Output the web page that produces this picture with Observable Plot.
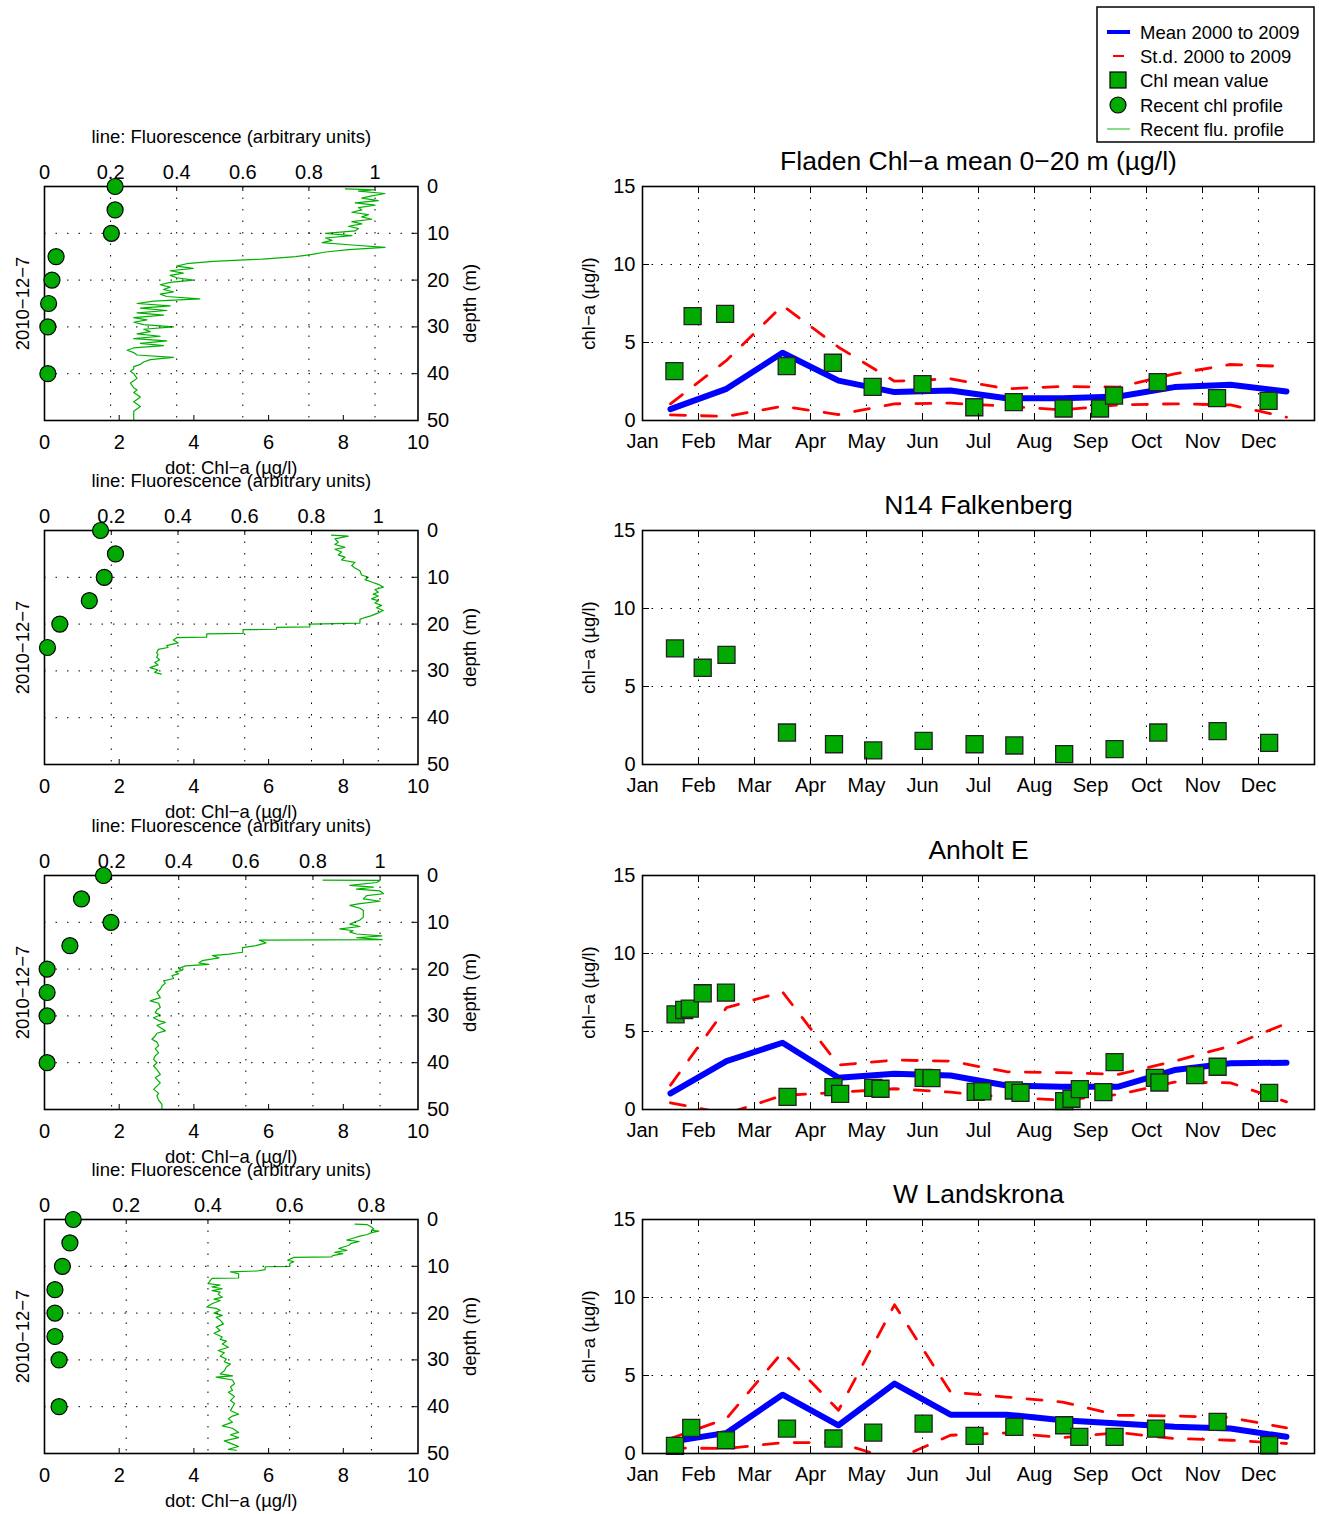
<!DOCTYPE html>
<html><head><meta charset="utf-8">
<script src="https://cdn.jsdelivr.net/npm/d3@7"></script>
<script src="https://cdn.jsdelivr.net/npm/@observablehq/plot@0.6"></script>
<style>
body{margin:0;background:#fff;}
#fig{position:relative;width:1319px;height:1514px;font-family:"Liberation Sans",Arial,Helvetica,sans-serif;color:#000;}
#fig svg{position:absolute;}
</style></head><body><div id="fig">
<svg id="legend" width="219" height="137" style="left:1096px;top:6px" font-family="Liberation Sans, Arial, sans-serif">
<rect x="1" y="1" width="217" height="135" fill="#fff" stroke="#000" stroke-width="1.5"/>
<line x1="11" x2="34" y1="26" y2="26" stroke="#0000ff" stroke-width="4"/>
<line x1="17" x2="28" y1="50" y2="50" stroke="#ff0000" stroke-width="2"/>
<rect x="14" y="66" width="16" height="16" fill="#00aa00" stroke="#000" stroke-width="1.2"/>
<circle cx="22" cy="99" r="8" fill="#00aa00" stroke="#000" stroke-width="1.2"/>
<line x1="11" x2="34" y1="123" y2="123" stroke="#33cc33" stroke-width="1.2"/>
<text x="44" y="32.5" font-size="18.5">Mean 2000 to 2009</text>
<text x="44" y="56.5" font-size="18.5">St.d. 2000 to 2009</text>
<text x="44" y="80.5" font-size="18.5">Chl mean value</text>
<text x="44" y="105.5" font-size="18.5">Recent chl profile</text>
<text x="44" y="129.5" font-size="18.5">Recent flu. profile</text>
</svg>
</div>
<script>
// ---------- DATA ----------
const months = ["Jan","Feb","Mar","Apr","May","Jun","Jul","Aug","Sep","Oct","Nov","Dec"];
const titles = ["Fladen Chl\u2212a mean 0\u221220 m (\u00b5g/l)", "N14 Falkenberg", "Anholt E", "W Landskrona"];
const profileDate = "2010\u221212\u22127";

// Recent chl profile (dots): depth (m) and Chl-a (µg/l)
const dotDepth1 = [0,5,10,15,20,25,30,40];
const dotChl1   = [1.89,1.89,1.79,0.31,0.20,0.11,0.09,0.09];
const dotDepth2 = [0,5,10,15,20,25];
const dotChl2   = [1.50,1.90,1.60,1.20,0.41,0.08];
const dotDepth3 = [0,5,10,15,20,25,30,40];
const dotChl3   = [1.58,0.99,1.78,0.68,0.07,0.07,0.07,0.07];
const dotDepth4 = [0,5,10,15,20,25,30,40];
const dotChl4   = [0.77,0.68,0.48,0.28,0.28,0.28,0.39,0.39];

// Fluorescence top-axis extent and ticks
const fluAxisMax = [1.13, 1.119, 1.113, 0.914];
const fluTicks = [[0,0.2,0.4,0.6,0.8,1],[0,0.2,0.4,0.6,0.8,1],[0,0.2,0.4,0.6,0.8,1],[0,0.2,0.4,0.6,0.8]];

// Recent fluorescence profile (line)
const fluDepth1 = [0.5,0.7,1.0,1.5,2.0,2.5,3.0,3.5,4.0,4.5,5.0,5.5,6.0,6.5,7.0,7.5,8.0,8.5,9.0,9.5,10.0,10.5,11.0,11.5,12.0,12.5,13.0,13.5,14.0,14.5,15.0,15.5,16.0,16.5,17.0,17.5,18.0,18.5,19.0,19.5,20.0,20.5,21.0,21.5,22.0,22.5,23.0,23.5,24.0,24.5,25.0,25.5,26.0,26.5,27.0,27.5,28.0,28.5,29.0,29.5,30.0,30.5,31.0,31.5,32.0,32.5,33.0,33.5,34.0,34.5,35.0,35.5,36.0,36.5,37.0,37.5,38.0,38.5,39.0,39.5,40.0,41.0,42.0,43.0,43.5,44.0,45.0,45.5,46.0,47.0,48.0,49.0,50.0];
const fluVal1   = [0.91,1.00,0.95,1.03,0.99,0.96,1.01,0.94,1.00,0.95,0.96,0.93,0.98,0.96,0.99,0.93,0.96,0.92,0.95,0.94,0.85,0.93,0.85,0.87,0.84,0.93,1.03,0.92,0.85,0.81,0.76,0.66,0.51,0.43,0.40,0.45,0.38,0.42,0.38,0.40,0.45,0.38,0.35,0.38,0.36,0.39,0.35,0.37,0.47,0.33,0.28,0.38,0.29,0.37,0.28,0.36,0.27,0.31,0.27,0.30,0.39,0.30,0.32,0.28,0.35,0.27,0.37,0.29,0.36,0.27,0.25,0.27,0.28,0.39,0.32,0.30,0.29,0.27,0.27,0.26,0.27,0.28,0.26,0.27,0.28,0.27,0.29,0.28,0.27,0.29,0.27,0.27,0.27];
const fluDepth2 = [1.0,1.2,1.8,2.5,3.0,3.6,4.0,4.6,5.2,5.7,6.3,6.8,7.5,8.0,8.6,9.5,10.0,10.5,11.0,11.5,12.1,12.6,13.2,13.6,14.0,14.6,15.0,15.5,16.0,16.5,17.1,17.6,18.2,18.6,19.0,19.8,20.0,20.6,20.7,21.1,21.2,22.0,22.1,22.8,22.9,23.4,24.0,24.6,25.0,25.4,26.1,26.5,27.1,27.6,28.2,28.7,29.3,29.8,30.3,30.7];
const fluVal2   = [0.86,0.91,0.87,0.88,0.87,0.90,0.87,0.89,0.88,0.90,0.89,0.93,0.92,0.93,0.945,0.95,0.97,0.96,0.98,1.0,1.015,0.99,1.0,0.985,1.0,0.98,1.0,0.99,1.01,0.995,1.015,1.0,0.98,0.96,0.945,0.945,0.795,0.795,0.695,0.695,0.595,0.595,0.486,0.486,0.396,0.386,0.40,0.366,0.37,0.341,0.336,0.34,0.336,0.345,0.33,0.34,0.316,0.34,0.33,0.35];
const fluDepth3 = [1.0,1.05,1.5,2.1,2.5,2.9,3.3,3.9,4.3,5.0,5.5,6.0,6.4,7.0,7.5,8.2,8.9,9.5,10.4,10.9,11.4,11.8,12.1,12.5,12.9,13.3,13.7,13.8,14.4,15.0,15.4,16.4,16.8,17.1,17.6,18.2,18.7,19.0,19.3,19.9,20.3,20.6,21.0,21.4,22.0,22.5,23.0,23.6,24.3,25.0,25.5,26.1,26.8,27.3,28.2,28.7,29.3,29.8,30.4,31.0,31.4,32.0,32.5,33.2,33.7,34.3,35.0,35.6,36.4,37.0,37.9,38.5,39.3,40.0,40.7,41.5,42.5,43.2,44.3,45.0,45.7,46.5,47.1,48.0,48.9,50.0];
const fluVal3   = [0.83,1.0,0.99,0.91,0.98,0.93,1.0,1.01,0.96,0.95,1.0,0.94,0.91,0.94,0.95,0.95,0.95,0.94,0.91,0.94,0.88,0.92,0.91,0.93,1.005,0.93,1.006,0.64,0.66,0.63,0.59,0.59,0.55,0.50,0.52,0.47,0.46,0.49,0.42,0.40,0.41,0.39,0.40,0.38,0.385,0.355,0.36,0.35,0.345,0.335,0.34,0.345,0.315,0.34,0.345,0.335,0.33,0.345,0.325,0.34,0.36,0.335,0.345,0.36,0.335,0.33,0.32,0.335,0.34,0.33,0.34,0.33,0.325,0.335,0.325,0.335,0.345,0.33,0.345,0.335,0.325,0.34,0.335,0.34,0.35,0.35];
const fluDepth4 = [1.0,1.1,1.6,2.0,2.3,2.5,2.8,3.2,3.6,4.0,4.4,4.7,5.1,5.5,6.2,6.6,7.0,7.3,7.7,8.0,8.1,8.7,9.0,9.4,10.0,10.1,10.7,11.0,11.2,11.6,12.0,12.5,12.6,13.1,13.7,14.0,14.4,14.8,15.2,15.5,16.0,16.6,17.0,17.3,18.0,18.7,19.0,19.4,20.0,20.5,20.9,21.5,22.3,23.0,23.7,24.3,25.1,25.6,26.0,26.6,27.3,28.0,28.5,29.2,29.8,30.4,30.9,31.5,32.3,33.0,33.4,33.7,34.3,35.1,35.8,36.5,36.9,37.8,38.7,39.3,40.1,40.8,41.6,42.0,42.6,43.3,44.1,44.6,45.5,46.0,46.6,47.3,48.0,48.5,49.1,49.3];
const fluVal4   = [0.76,0.79,0.80,0.806,0.80,0.818,0.80,0.79,0.77,0.755,0.74,0.77,0.75,0.745,0.72,0.74,0.71,0.73,0.705,0.703,0.61,0.595,0.61,0.60,0.60,0.54,0.54,0.52,0.455,0.475,0.475,0.475,0.41,0.405,0.40,0.43,0.41,0.435,0.41,0.43,0.425,0.435,0.415,0.43,0.41,0.397,0.42,0.43,0.415,0.435,0.42,0.43,0.438,0.42,0.43,0.415,0.435,0.43,0.445,0.435,0.45,0.425,0.44,0.43,0.445,0.44,0.455,0.445,0.44,0.43,0.46,0.42,0.46,0.465,0.455,0.46,0.45,0.465,0.455,0.465,0.46,0.455,0.475,0.46,0.45,0.46,0.435,0.46,0.475,0.455,0.475,0.44,0.46,0.475,0.45,0.47];

// Chl mean values (squares): position in months from 1 Jan, value µg/l
const sampleMonth1 = [0.57,0.895,1.475,2.575,3.40,4.11,5.00,5.925,6.63,7.52,8.17,8.42,9.20,10.26,11.18];
const sampleChl1   = [3.16,6.69,6.84,3.48,3.70,2.16,2.33,0.85,1.18,0.77,0.77,1.60,2.46,1.43,1.26];
const sampleMonth2 = [0.58,1.075,1.50,2.58,3.42,4.12,5.02,5.93,6.64,7.53,8.43,9.21,10.27,11.19];
const sampleChl2   = [7.44,6.20,7.03,2.05,1.30,0.90,1.52,1.30,1.22,0.66,0.98,2.05,2.14,1.39];
const sampleMonth3 = [0.59,0.745,0.845,1.075,1.49,2.59,3.41,3.53,4.12,4.25,5.02,5.16,5.95,6.07,6.63,6.75,7.53,7.66,7.81,8.23,8.43,9.15,9.23,9.87,10.27,11.19];
const sampleChl3   = [6.10,6.38,6.47,7.45,7.49,0.81,1.43,1.00,1.39,1.33,2.03,2.01,1.13,1.16,1.22,1.07,0.54,0.69,1.31,1.11,3.04,2.03,1.73,2.20,2.74,1.07];
const sampleMonth4 = [0.58,0.87,1.49,2.58,3.41,4.12,5.02,5.93,6.64,7.53,7.80,8.43,9.17,10.27,11.19];
const sampleChl4   = [0.49,1.64,0.85,1.60,0.96,1.34,1.92,1.13,1.71,1.81,1.07,1.07,1.60,2.03,0.53];

// Monthly mean 2000-2009 and mean ± std (mid-month)
const mean1  = [0.73,2.03,4.34,2.56,1.82,1.92,1.43,1.43,1.54,2.14,2.29,1.86];
const upper1 = [1.07,3.85,7.37,4.70,2.52,2.67,2.03,2.18,2.14,2.99,3.59,3.46];
const lower1 = [0.36,0.26,0.92,0.38,1.07,1.11,0.92,0.68,1.00,1.07,1.00,0.21];
const mean3  = [1.03,3.10,4.28,2.03,2.29,2.18,1.54,1.46,1.46,2.53,2.96,3.00];
const upper3 = [1.56,6.53,7.54,2.85,3.17,3.10,2.42,2.36,2.25,3.10,4.07,5.52];
const lower3 = [0.43,-0.27,0.90,1.10,1.33,1.11,0.79,0.60,0.96,1.76,1.71,0.49];
const mean4  = [0.75,1.32,3.77,1.81,4.48,2.49,2.49,2.13,1.92,1.71,1.60,1.07];
const upper4 = [0.96,2.24,6.50,2.77,9.53,3.94,3.62,3.30,2.45,2.41,2.30,1.64];
const lower4 = [0.36,0.32,0.70,0.70,-0.42,1.17,1.32,1.02,1.34,0.96,0.85,0.64];

// ---------- DRAW ----------
const dotDepths = [dotDepth1,dotDepth2,dotDepth3,dotDepth4];
const dotChls = [dotChl1,dotChl2,dotChl3,dotChl4];
const fluDepths = [fluDepth1,fluDepth2,fluDepth3,fluDepth4];
const fluVals = [fluVal1,fluVal2,fluVal3,fluVal4];
const sampleMonths = [sampleMonth1,sampleMonth2,sampleMonth3,sampleMonth4];
const sampleChls = [sampleChl1,sampleChl2,sampleChl3,sampleChl4];
const means = [mean1,null,mean3,mean4];
const uppers = [upper1,null,upper3,upper4];
const lowers = [lower1,null,lower3,lower4];

const GREEN = "#00aa00", FLU = "#00b000";
const FONT = '"Liberation Sans", Arial, Helvetica, sans-serif';
const frameTops = [186, 530, 875, 1219];
const FH = 234;
const fig = document.getElementById("fig");
const GRID = {stroke: "#000", strokeWidth: 1, strokeDasharray: "1.5,10"};

function place(svg, left, top) {
  svg.style.position = "absolute";
  svg.style.left = left + "px";
  svg.style.top = top + "px";
  fig.appendChild(svg);
}
const baseStyle = {background: "none", overflow: "visible", fontFamily: FONT, color: "#000", maxWidth: "none"};
const VLABEL = {lineAnchor: "middle", textAnchor: "middle", rotate: -90, fontSize: 18.5};

function profile(r) {
  const MT = 70, MB = 60, W = 480, ML = 44, MR = 62.5;
  const FW = W - ML - MR;
  const base = {width: W, height: MT + FH + MB, marginLeft: ML, marginRight: MR, marginTop: MT, marginBottom: MB, style: baseStyle};
  const ft = fluTicks[r];
  const flu = fluDepths[r].map((d, i) => ({depth: d, f: fluVals[r][i]}));
  const svgF = Plot.plot({...base,
    x: {domain: [0, fluAxisMax[r]], axis: null},
    y: {domain: [0, 50], reverse: true, axis: null},
    marks: [
      Plot.ruleX(ft.filter(v => v > 0), GRID),
      Plot.line(flu, {x: "f", y: "depth", stroke: FLU, strokeWidth: 1.2}),
      Plot.ruleX(ft.filter(v => v > 0), {stroke: "#000", insetBottom: FH - 5}),
      Plot.axisX(ft, {anchor: "top", tickSize: 0, tickPadding: 8, fontSize: 20, label: null, tickFormat: d3.format("~g")}),
      Plot.text(["line: Fluorescence (arbitrary units)"], {frameAnchor: "top", lineAnchor: "middle", dy: -49, fontSize: 18.5})
    ]});
  const dots = dotDepths[r].map((d, i) => ({depth: d, chl: dotChls[r][i]}));
  const svgC = Plot.plot({...base,
    x: {domain: [0, 10], axis: null},
    y: {domain: [0, 50], reverse: true, axis: null},
    marks: [
      Plot.ruleY([10, 20, 30, 40], GRID),
      Plot.frame({stroke: "#000", strokeWidth: 1.6}),
      Plot.ruleX([2, 4, 6, 8], {stroke: "#000", insetTop: FH - 5}),
      Plot.ruleY([10, 20, 30, 40], {stroke: "#000", insetLeft: FW - 6}),
      Plot.dot(dots, {x: "chl", y: "depth", r: 8, fill: GREEN, stroke: "#000", strokeWidth: 1.2}),
      Plot.axisX([0, 2, 4, 6, 8, 10], {anchor: "bottom", tickSize: 0, tickPadding: 14, fontSize: 20, label: null}),
      Plot.axisY([0, 10, 20, 30, 40, 50], {anchor: "right", tickSize: 0, tickPadding: 9, fontSize: 20, label: null}),
      Plot.text(["dot: Chl\u2212a (\u00b5g/l)"], {frameAnchor: "bottom", lineAnchor: "middle", dy: 48, fontSize: 18.5}),
      Plot.text([profileDate], {...VLABEL, frameAnchor: "left", dx: -21.5}),
      Plot.text(["depth (m)"], {...VLABEL, frameAnchor: "right", dx: 52})
    ]});
  place(svgF, 0, frameTops[r] - MT);
  place(svgC, 0, frameTops[r] - MT);
}

function series(r) {
  const MT = 50, MB = 40, W = 749, ML = 72, MR = 5;
  const FW = W - ML - MR;
  const samples = sampleMonths[r].map((m, i) => ({m, v: sampleChls[r][i]}));
  const toPts = a => a ? a.map((v, i) => ({m: i + 0.5, v})) : [];
  const DASH = {x: "m", y: "v", stroke: "#ff0000", strokeWidth: 2.8, strokeDasharray: "15,16", clip: true};
  const svg = Plot.plot({
    width: W, height: MT + FH + MB, marginLeft: ML, marginRight: MR, marginTop: MT, marginBottom: MB,
    style: baseStyle,
    x: {domain: [0, 12], axis: null},
    y: {domain: [0, 15], axis: null},
    marks: [
      Plot.ruleX(d3.range(1, 12), GRID),
      Plot.ruleY([5, 10], {...GRID, strokeDasharray: "1.5,8"}),
      Plot.line(toPts(means[r]), {x: "m", y: "v", stroke: "#0000ff", strokeWidth: 6, clip: true}),
      Plot.line(toPts(uppers[r]), DASH),
      Plot.line(toPts(lowers[r]), DASH),
      Plot.dot(samples, {x: "m", y: "v", symbol: "square", r: 9.6, fill: GREEN, stroke: "#222", strokeWidth: 1.3}),
      Plot.frame({stroke: "#000", strokeWidth: 1.6}),
      Plot.ruleX(d3.range(1, 12), {stroke: "#000", insetTop: FH - 7}),
      Plot.ruleX(d3.range(1, 12), {stroke: "#000", insetBottom: FH - 7}),
      Plot.ruleY([5, 10], {stroke: "#000", insetLeft: FW - 7}),
      Plot.ruleY([5, 10], {stroke: "#000", insetRight: FW - 7}),
      Plot.axisX(d3.range(12), {anchor: "bottom", tickSize: 0, tickPadding: 13, fontSize: 20, label: null, tickFormat: d => months[d]}),
      Plot.axisY([0, 5, 10, 15], {anchor: "left", tickSize: 0, tickPadding: 7, fontSize: 20, label: null}),
      Plot.text([titles[r]], {frameAnchor: "top", lineAnchor: "middle", dy: -25, fontSize: 26.5}),
      Plot.text(["chl\u2212a (\u00b5g/l)"], {...VLABEL, frameAnchor: "left", dx: -53})
    ]});
  place(svg, 570, frameTops[r] - MT);
}

for (let r = 0; r < 4; r++) { profile(r); series(r); }
fig.appendChild(document.getElementById("legend"));
</script></body></html>
